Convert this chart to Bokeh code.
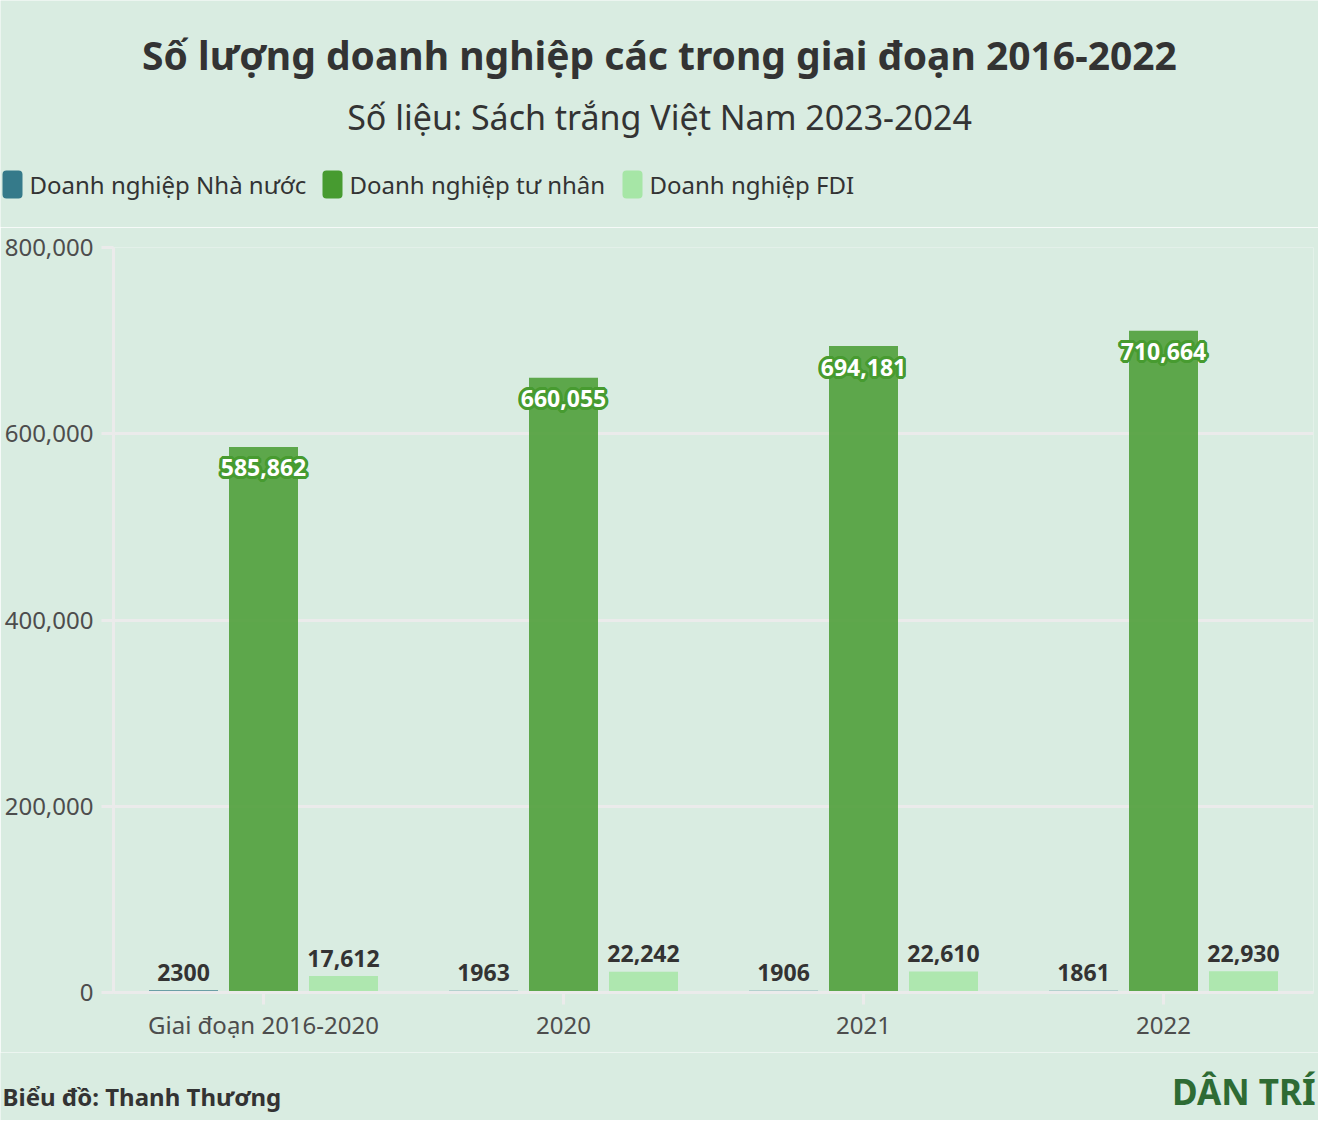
from bokeh.plotting import figure
from bokeh.models import (ColumnDataSource, FactorRange, FixedTicker, NumeralTickFormatter,
                          Label, BoxAnnotation, Range1d)
from bokeh.transform import dodge
from bokeh.core.properties import value
from bokeh.embed import file_html
from bokeh.resources import INLINE

# ---------------- data ----------------
categories = ["Giai đoạn 2016-2020", "2020", "2021", "2022"]
nha_nuoc = [2300, 1963, 1906, 1861]
tu_nhan = [585862, 660055, 694181, 710664]
fdi = [17612, 22242, 22610, 22930]
series_names = ["Doanh nghiệp Nhà nước", "Doanh nghiệp tư nhân", "Doanh nghiệp FDI"]
y_ticks = [0, 200000, 400000, 600000, 800000]

title_text = "Số lượng doanh nghiệp các trong giai đoạn 2016-2022"
subtitle_text = "Số liệu: Sách trắng Việt Nam 2023-2024"
credit_text = "Biểu đồ: Thanh Thương"
logo_text = "DÂN TRÍ"

# ---------------- style ----------------
BG = "#d9ece1"
GRID = "#ebebeb"
TXT = "#333333"
AX_TXT = "#4d4d4d"
C_NN = "#357a8a"
C_TN = "#479b30"
C_FDI = "#a6e6a6"
FONT = "Noto Sans"

W = 1318
H_HEAD, H_MAIN, H_FOOT = 227, 825, 68
FRAME_L, FRAME_R = 113, 1313


def blank_fig(h):
    f = figure(width=W, height=h, x_range=Range1d(0, W), y_range=Range1d(0, h),
               x_axis_type=None, y_axis_type=None, output_backend="svg",
               toolbar_location=None, min_border=0)
    f.min_border_left = f.min_border_right = f.min_border_top = f.min_border_bottom = 0
    f.grid.visible = False
    f.outline_line_color = None
    f.background_fill_color = BG
    f.border_fill_color = BG
    return f


def add_label(f, h, text, x, y, size, bold=False, align="left", color=TXT):
    f.add_layout(Label(x=x, y=h - y, text=text,
                       text_font=FONT, text_font_size=size,
                       text_font_style="bold" if bold else "normal",
                       text_color=color, text_align=align, text_baseline="middle"))


# ---------------- header ----------------
head = blank_fig(H_HEAD)
add_label(head, H_HEAD, title_text, 659, 54, "39px", bold=True, align="center")
add_label(head, H_HEAD, subtitle_text, 659, 116, "34px", align="center")
legend_x = [(2, 29), (322, 349), (622, 649)]
legend_colors = [C_NN, C_TN, C_FDI]
for (bx, tx), name, c in zip(legend_x, series_names, legend_colors):
    head.add_layout(BoxAnnotation(left=bx, right=bx + 20, top=H_HEAD - 170, bottom=H_HEAD - 198,
                                  fill_color=c, fill_alpha=1, line_color=None, border_radius=4))
    add_label(head, H_HEAD, name, tx, 184, "24px")

# ---------------- main chart ----------------
src = ColumnDataSource(dict(
    cat=categories,
    nn=nha_nuoc, tn=tu_nhan, fdi=fdi,
    nn_lbl=[str(v) for v in nha_nuoc],
    tn_lbl=[f"{v:,}" for v in tu_nhan],
    fdi_lbl=[f"{v:,}" for v in fdi],
))

p = figure(width=W, height=H_MAIN, x_range=FactorRange(*categories, range_padding=0),
           y_range=Range1d(0, 800000), output_backend="svg", toolbar_location=None,
           min_border_left=FRAME_L, min_border_right=W - FRAME_R,
           min_border_top=20, min_border_bottom=60)
p.background_fill_color = BG
p.border_fill_color = BG
p.outline_line_color = None

p.yaxis.ticker = FixedTicker(ticks=y_ticks)
p.yaxis.formatter = NumeralTickFormatter(format="0,0")
for ax in (p.xaxis[0], p.yaxis[0]):
    ax.axis_line_color = GRID
    ax.axis_line_width = 3
    ax.major_tick_line_color = GRID
    ax.major_tick_line_width = 3
    ax.major_tick_out = 12
    ax.major_tick_in = 0
    ax.minor_tick_line_color = None
    ax.major_label_text_font = FONT
    ax.major_label_text_font_size = "24px"
    ax.major_label_text_color = AX_TXT
p.yaxis.major_label_standoff = 8
p.xaxis.major_label_standoff = 3
p.xgrid.grid_line_color = None
p.ygrid.grid_line_color = GRID
p.ygrid.grid_line_width = 3

OFF = 80 / 300
BW = 69 / 300
p.vbar(x=dodge("cat", -OFF, range=p.x_range), top="nn", width=BW, source=src,
       fill_color=C_NN, fill_alpha=0.9, line_color=None)
p.vbar(x=dodge("cat", 0, range=p.x_range), top="tn", width=BW, source=src,
       fill_color=C_TN, fill_alpha=0.85, line_color=None)
p.vbar(x=dodge("cat", OFF, range=p.x_range), top="fdi", width=BW, source=src,
       fill_color=C_FDI, fill_alpha=0.85, line_color=None)

for col, lbl, off in (("nn", "nn_lbl", -OFF), ("fdi", "fdi_lbl", OFF)):
    p.text(x=dodge("cat", off, range=p.x_range), y=col, text=lbl, source=src,
           text_align="center", text_baseline="middle", y_offset=-18,
           text_font=value(FONT), text_font_style="bold", text_font_size="23px",
           text_color=TXT)

halo = [(-3, 0), (3, 0), (0, -3), (0, 3), (-2, -2), (2, -2), (-2, 2), (2, 2),
        (-3, -1), (3, -1), (-3, 1), (3, 1), (-1, -3), (1, -3), (-1, 3), (1, 3)]
for dx, dy in halo:
    p.text(x=dodge("cat", 0, range=p.x_range), y="tn", text="tn_lbl", source=src,
           text_align="center", text_baseline="middle", x_offset=dx, y_offset=21 + dy,
           text_font=value(FONT), text_font_style="bold", text_font_size="23px",
           text_color=C_TN)
p.text(x=dodge("cat", 0, range=p.x_range), y="tn", text="tn_lbl", source=src,
       text_align="center", text_baseline="middle", y_offset=21,
       text_font=value(FONT), text_font_style="bold", text_font_size="23px",
       text_color="white")

# ---------------- footer ----------------
foot = blank_fig(H_FOOT)
add_label(foot, H_FOOT, credit_text, 2, 44, "24px", bold=True)
add_label(foot, H_FOOT, logo_text, 1315, 39, "35px", bold=True, align="right", color="#2e6b34")

# separate roots so the blank header/footer are not frame-aligned with the chart
html = file_html([head, p, foot], INLINE)
html = html.replace("<body>", f'<body style="background-color: {BG};">', 1)
open("out.html", "w").write(html)
